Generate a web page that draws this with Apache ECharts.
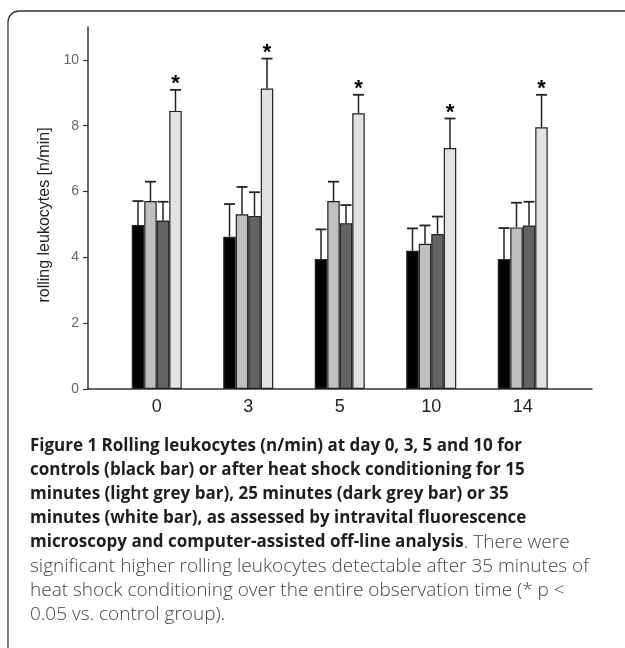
<!DOCTYPE html>
<html>
<head>
<meta charset="utf-8">
<script src="https://cdn.jsdelivr.net/npm/echarts@6/dist/echarts.min.js"></script>
<style>
html,body{margin:0;padding:0;background:#fff;}
#chart{width:625px;height:648px;}
</style>
</head>
<body>
<div id="chart"></div>
<script>
// ---- data ----
const categories = ['0', '3', '5', '10', '14'];
const seriesNames = ['control', '15 min', '25 min', '35 min'];
const controlMean = [4.98, 4.63, 3.95, 4.20, 3.95];
const controlErr  = [5.71, 5.62, 4.85, 4.88, 4.89];
const hs15Mean = [5.71, 5.31, 5.71, 4.41, 4.91];
const hs15Err  = [6.30, 6.14, 6.30, 4.97, 5.66];
const hs25Mean = [5.12, 5.26, 5.04, 4.71, 4.97];
const hs25Err  = [5.69, 5.98, 5.59, 5.24, 5.69];
const hs35Mean = [8.45, 9.13, 8.38, 7.32, 7.95];
const hs35Err  = [9.09, 10.04, 8.94, 8.22, 8.94];
const significant = [true, true, true, true, true];
const yTicks = [0, 2, 4, 6, 8, 10];
const yTitle = 'rolling leukocytes [n/min]';
const captionLines = [
  [['b', 'Figure 1'], ['b', ' Rolling leukocytes (n/min) at day 0, 3, 5 and 10 for']],
  [['b', 'controls (black bar) or after heat shock conditioning for 15']],
  [['b', 'minutes (light grey bar), 25 minutes (dark grey bar) or 35']],
  [['b', 'minutes (white bar), as assessed by intravital fluorescence']],
  [['b', 'microscopy and computer-assisted off-line analysis'], ['r', '. There were']],
  [['r', 'significant higher rolling leukocytes detectable after 35 minutes of']],
  [['r', 'heat shock conditioning over the entire observation time (* p <']],
  [['r', '0.05 vs. control group).']]
];

// ---- styling ----
const means = [controlMean, hs15Mean, hs25Mean, hs35Mean];
const errs = [controlErr, hs15Err, hs25Err, hs35Err];
const colors = ['#000000', '#bfbfbf', '#636363', '#e2e2e2'];
const BAR_W = 12.5;
const YMAX = 11;

const chart = echarts.init(document.getElementById('chart'));

const barSeries = means.map((m, i) => ({
  name: seriesNames[i],
  type: 'bar',
  xAxisIndex: 1, yAxisIndex: 1,
  data: m,
  barWidth: BAR_W,
  barGap: '0%',
  itemStyle: { color: colors[i], borderColor: '#222', borderWidth: 1.2 },
  z: 2
}));

const errData = [];
errs.forEach((e, si) => {
  e.forEach((v, ci) => {
    errData.push([ci, means[si][ci], v, si, (si === 3 && significant[ci]) ? 1 : 0]);
  });
});

const errSeries = {
  type: 'custom',
  xAxisIndex: 1, yAxisIndex: 1,
  data: errData,
  z: 5,
  renderItem: function (params, api) {
    const ci = api.value(0), m = api.value(1), e = api.value(2), si = api.value(3), star = api.value(4);
    const pBase = api.coord([ci, m]);
    const pTop = api.coord([ci, e]);
    const x = pBase[0] + (si - 1.5) * BAR_W;
    const children = [
      { type: 'line', shape: { x1: x, y1: pBase[1], x2: x, y2: pTop[1] }, style: { stroke: '#222', lineWidth: 1.5 } },
      { type: 'line', shape: { x1: x - 5.5, y1: pTop[1], x2: x + 5.5, y2: pTop[1] }, style: { stroke: '#222', lineWidth: 1.8 } }
    ];
    if (star) {
      children.push({
        type: 'text',
        x: x, y: pTop[1] - 6,
        style: { text: '*', fill: '#000', font: 'bold 22px "Liberation Sans", Arial, sans-serif', align: 'center', verticalAlign: 'middle' }
      });
    }
    return { type: 'group', children: children };
  }
};

const captionGraphics = captionLines.map((parts, i) => ({
  type: 'text',
  x: 30,
  y: 446 + i * 24.15,
  style: {
    text: parts.map(p => '{' + p[0] + '|' + p[1] + '}').join(''),
    align: 'left',
    verticalAlign: 'middle',
    rich: {
      b: { font: 'bold 17px "Open Sans", sans-serif', fill: '#1e1e1e' },
      r: { font: '300 19px "Open Sans", sans-serif', fill: '#444' }
    }
  }
}));

chart.setOption({
  animation: false,
  backgroundColor: '#fff',
  grid: [
    { left: 88, right: 33, top: 27, bottom: 259 },
    { left: 111, right: 56.5, top: 27, bottom: 259 }
  ],
  xAxis: [
    { gridIndex: 0, type: 'value', min: 0, max: 1,
      axisLine: { show: true, lineStyle: { color: '#333', width: 1.5 } },
      axisTick: { show: false }, axisLabel: { show: false }, splitLine: { show: false } },
    { gridIndex: 1, type: 'category', data: categories,
      axisLine: { show: false }, axisTick: { show: false }, splitLine: { show: false },
      axisLabel: { color: '#222', fontSize: 18, margin: 9, fontFamily: '"Liberation Sans", Arial, sans-serif' } }
  ],
  yAxis: [
    { gridIndex: 0, type: 'value', min: 0, max: YMAX,
      axisLine: { show: true, lineStyle: { color: '#333', width: 1.5 } },
      axisTick: { show: true, length: 5, customValues: yTicks, lineStyle: { color: '#333', width: 1.2 } },
      axisLabel: { customValues: yTicks, color: '#666', fontSize: 14, margin: 9, fontFamily: '"Liberation Sans", Arial, sans-serif' },
      splitLine: { show: false } },
    { gridIndex: 1, type: 'value', min: 0, max: YMAX, show: false }
  ],
  graphic: [
    { type: 'rect', shape: { x: 8, y: 11, width: 800, height: 800, r: 11 }, style: { fill: null, stroke: '#333', lineWidth: 1.3 }, silent: true },
    { type: 'text', x: 45, y: 215, rotation: Math.PI / 2,
      style: { text: yTitle, font: '16px "Liberation Sans", Arial, sans-serif', fill: '#222', align: 'center', verticalAlign: 'middle' } }
  ].concat(captionGraphics),
  series: barSeries.concat([errSeries])
});
</script>
</body>
</html>
